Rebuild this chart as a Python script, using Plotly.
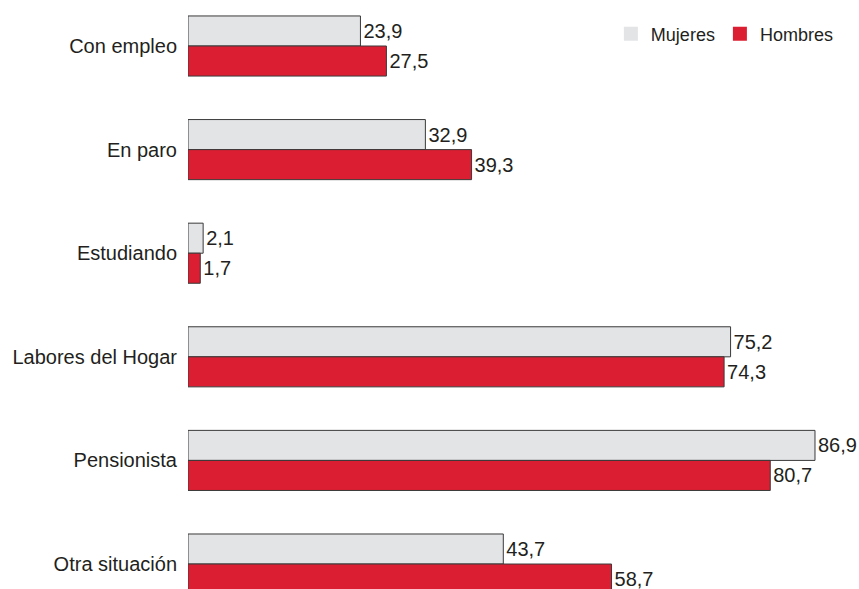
import plotly.graph_objects as go

categories = ["Con empleo", "En paro", "Estudiando", "Labores del Hogar", "Pensionista", "Otra situación"]
mujeres = [23.9, 32.9, 2.1, 75.2, 86.9, 43.7]
hombres = [27.5, 39.3, 1.7, 74.3, 80.7, 58.7]
series_names = ["Mujeres", "Hombres"]
series_colors = ["#e3e4e6", "#dc1e32"]

def fmt(v):
    return f"{v:.1f}".replace(".", ",")

font = dict(family="Liberation Sans, Arial, sans-serif", size=20, color="#231f20")

fig = go.Figure()
for name, vals, col in zip(series_names, [mujeres, hombres], series_colors):
    fig.add_trace(go.Bar(
        y=categories, x=vals, orientation="h", name=name, showlegend=False,
        marker=dict(color=col, line=dict(color="#3a3a3a", width=1)),
        text=[fmt(v) for v in vals], textposition="outside", cliponaxis=False,
        constraintext="none", textfont=font,
    ))
for name, col in zip(series_names, series_colors):
    fig.add_trace(go.Scatter(
        x=[None], y=[None], mode="markers", name=name,
        marker=dict(symbol="square", size=14, color=col, line=dict(width=0)),
    ))

fig.update_layout(
    width=859, height=589,
    margin=dict(l=188, r=0, t=0, b=0, autoexpand=False),
    barmode="group", bargap=0.42, bargroupgap=0,
    plot_bgcolor="white", paper_bgcolor="white",
    font=font,
    showlegend=True,
    legend=dict(orientation="h", x=0.97, xanchor="right", y=0.942, yanchor="middle",
                font=dict(size=18, color="#231f20"), traceorder="normal",
                itemsizing="trace", bgcolor="rgba(0,0,0,0)"),
    xaxis=dict(range=[0, 93.0], visible=False, showgrid=False, zeroline=False),
    yaxis=dict(categoryorder="array", categoryarray=categories,
               range=[5.241, -0.444], showgrid=False, zeroline=False,
               showline=False, ticks="", ticklabelstandoff=10, automargin=False,
               tickfont=font),
)
fig.write_html("out.html", config={"displayModeBar": False},
               post_script="document.body.style.margin='0';document.body.style.overflow='hidden';")
